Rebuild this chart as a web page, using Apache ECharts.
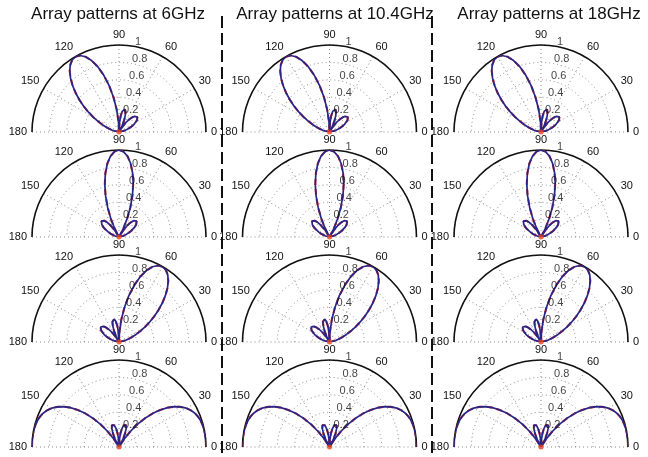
<!DOCTYPE html>
<html>
<head>
<meta charset="utf-8">
<script src="https://cdn.jsdelivr.net/npm/echarts@6/dist/echarts.min.js"></script>
<style>
html,body{margin:0;padding:0;background:#fff;}
#chart{width:648px;height:457px;}
</style>
</head>
<body>
<div id="chart"></div>
<script>
// ---- data ----
const TITLES = ['Array patterns at 6GHz', 'Array patterns at 10.4GHz', 'Array patterns at 18GHz'];
const ANGLE_TICKS = [0, 30, 60, 90, 120, 150, 180];
const R_TICKS = [0.2, 0.4, 0.6, 0.8, 1];
const ANGLES = [0,3,6,9,12,15,18,21,24,27,30,33,36,39,42,45,48,51,54,57,60,63,66,69,72,75,78,81,84,87,90,
  93,96,99,102,105,108,111,114,117,120,123,126,129,132,135,138,141,144,147,150,153,156,159,162,165,168,171,174,177,180];
// row 1: beam steered to 120 deg
const PATTERN_120 = [0,0.003,0.012,0.027,0.047,0.071,0.100,0.130,0.162,0.194,0.222,0.246,0.264,0.272,0.269,0.254,0.226,0.185,0.132,0.069,0,
  0.072,0.140,0.199,0.244,0.269,0.269,0.243,0.188,0.106,0,
  0.125,0.262,0.405,0.545,0.675,0.789,0.880,0.947,0.987,1,
  0.988,0.953,0.900,0.832,0.754,0.670,0.584,0.500,0.418,0.343,0.274,0.214,0.161,0.116,0.080,0.050,0.028,0.012,0.003,0];
// row 2: beam at 90 deg
const PATTERN_90 = [0,0.002,0.009,0.019,0.034,0.053,0.076,0.102,0.130,0.161,0.191,0.219,0.244,0.262,0.272,0.269,0.252,0.217,0.164,0.092,0,
  0.109,0.232,0.364,0.500,0.631,0.752,0.855,0.934,0.983,1,
  0.983,0.934,0.855,0.752,0.631,0.500,0.364,0.232,0.109,0,
  0.092,0.164,0.217,0.252,0.269,0.272,0.262,0.244,0.219,0.191,0.161,0.130,0.102,0.076,0.053,0.034,0.019,0.009,0.002,0];
// row 3: beam steered to 60 deg
const PATTERN_60 = [0,0.003,0.012,0.028,0.050,0.080,0.116,0.161,0.214,0.274,0.343,0.418,0.500,0.584,0.670,0.754,0.832,0.900,0.953,0.988,1,
  0.987,0.947,0.880,0.789,0.675,0.545,0.405,0.262,0.125,0,
  0.106,0.188,0.243,0.269,0.269,0.244,0.199,0.140,0.072,0,
  0.069,0.132,0.185,0.226,0.254,0.269,0.272,0.264,0.246,0.222,0.194,0.162,0.130,0.100,0.071,0.047,0.027,0.012,0.003,0];
// row 4: end-fire beams at 0 and 180 deg
const PATTERN_0 = [1,1.000,1.000,0.999,0.997,0.993,0.985,0.973,0.955,0.928,0.893,0.846,0.789,0.719,0.636,0.543,0.440,0.330,0.217,0.106,0,
  0.094,0.172,0.230,0.264,0.272,0.255,0.215,0.155,0.081,0,
  0.081,0.155,0.215,0.255,0.272,0.264,0.230,0.172,0.094,0,
  0.106,0.217,0.330,0.440,0.543,0.636,0.719,0.789,0.846,0.893,0.928,0.955,0.973,0.985,0.993,0.997,0.999,1.000,1.000,1];

// ---- layout ----
const ROWS = [PATTERN_120, PATTERN_90, PATTERN_60, PATTERN_0];
const COL_X = [119, 329.5, 541];
const ROW_Y = [132, 237, 342, 447];
const TITLE_X = [118, 335, 549];
const RADIUS = 87;
const FONT = 'Liberation Sans, Arial, sans-serif';
const GRID_STYLE = {color: '#8a8a8a', width: 1, type: [1, 3]};

const polar = [], angleAxis = [], radiusAxis = [], series = [];
let idx = 0;
for (let r = 0; r < ROWS.length; r++) {
  for (let c = 0; c < COL_X.length; c++) {
    polar.push({center: [COL_X[c], ROW_Y[r]], radius: RADIUS});
    angleAxis.push({
      polarIndex: idx, type: 'value', min: ANGLE_TICKS[0], max: ANGLE_TICKS[ANGLE_TICKS.length - 1], interval: 30,
      startAngle: 0, endAngle: 180, clockwise: false,
      axisLine: {show: true, lineStyle: {color: '#111', width: 1.6}},
      axisTick: {show: false},
      axisLabel: {show: true, margin: 5, fontSize: 11, color: '#111', fontFamily: FONT},
      splitLine: {show: true, lineStyle: GRID_STYLE}
    });
    radiusAxis.push({
      polarIndex: idx, type: 'value', min: 0, max: 1, interval: 0.2,
      axisLine: {show: false}, axisTick: {show: false}, axisLabel: {show: false},
      splitLine: {show: true, lineStyle: GRID_STYLE}
    });
    const pts = ANGLES.map((a, i) => [ROWS[r][i], a]);
    series.push({
      type: 'line', coordinateSystem: 'polar', polarIndex: idx, data: pts,
      showSymbol: false, symbol: 'none', silent: true, z: 3,
      lineStyle: {color: '#dc2b1c', width: 2.1, type: [6, 4]}
    });
    series.push({
      type: 'line', coordinateSystem: 'polar', polarIndex: idx, data: pts,
      showSymbol: false, symbol: 'none', silent: true, z: 4,
      lineStyle: {color: '#26268a', width: 1.7}
    });
    series.push({
      type: 'scatter', coordinateSystem: 'polar', polarIndex: idx, z: 5, silent: true,
      data: R_TICKS.map(v => [v, 80]), symbolSize: 0,
      label: {show: true, position: [1, 1], align: 'left', verticalAlign: 'bottom',
        formatter: p => String(p.value[0]), fontSize: 11, color: '#111', fontFamily: FONT}
    });
    series.push({
      type: 'scatter', coordinateSystem: 'polar', polarIndex: idx, z: 6, silent: true,
      data: [[0, 90]], symbolSize: 5, itemStyle: {color: '#e8401c'}
    });
    idx++;
  }
}

const title = TITLES.map((t, i) => ({
  text: t, left: TITLE_X[i], top: 6, textAlign: 'center', padding: 0,
  textStyle: {fontSize: 17, fontWeight: 'normal', color: '#111', fontFamily: FONT}
}));

const graphic = [222, 432].map(x => ({
  type: 'line', silent: true, z: 10,
  shape: {x1: x, y1: 16, x2: x, y2: 457},
  style: {stroke: '#111', lineWidth: 2, lineDash: [12, 5]}
}));

const chart = echarts.init(document.getElementById('chart'), null, {renderer: 'canvas'});
chart.setOption({
  animation: false,
  backgroundColor: '#ffffff',
  title, polar, angleAxis, radiusAxis, series, graphic
});
</script>
</body>
</html>
